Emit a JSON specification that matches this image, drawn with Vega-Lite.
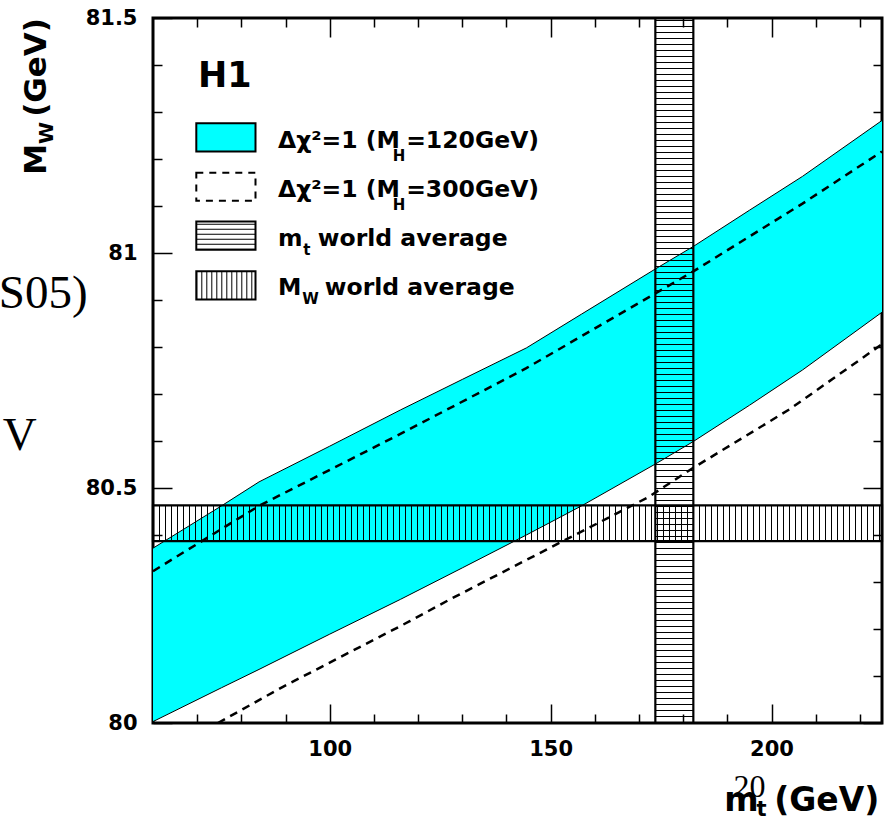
{
  "$schema": "https://vega.github.io/schema/vega-lite/v6.json",
  "width": 729,
  "height": 705,
  "autosize": "none",
  "padding": {"left": 153, "top": 18, "right": 8, "bottom": 98},
  "background": "white",
  "config": {
    "view": {"stroke": "black", "strokeWidth": 3},
    "axis": {"grid": false, "domain": false, "tickColor": "black", "tickWidth": 1.5, "labelColor": "black", "labelFont": "DejaVu Sans", "labelFontWeight": "bold", "labelFontSize": 21, "labelFlush": false, "zindex": 1, "title": null}
  },
  "datasets": {
    "band120": [
      {"mt": 60, "hi": 80.372, "lo": 80.003},
      {"mt": 75.5, "hi": 80.462, "lo": 80.075},
      {"mt": 84, "hi": 80.513, "lo": 80.114},
      {"mt": 100, "hi": 80.589, "lo": 80.189},
      {"mt": 116, "hi": 80.666, "lo": 80.263},
      {"mt": 130, "hi": 80.731, "lo": 80.330},
      {"mt": 144.5, "hi": 80.798, "lo": 80.400},
      {"mt": 157, "hi": 80.870, "lo": 80.462},
      {"mt": 173.7, "hi": 80.966, "lo": 80.551},
      {"mt": 182.3, "hi": 81.014, "lo": 80.599},
      {"mt": 195, "hi": 81.091, "lo": 80.676},
      {"mt": 207, "hi": 81.163, "lo": 80.751},
      {"mt": 225, "hi": 81.282, "lo": 80.874}
    ],
    "band300": [
      {"s": "hi", "mt": 60, "mw": 80.323},
      {"s": "hi", "mt": 84, "mw": 80.462},
      {"s": "hi", "mt": 116, "mw": 80.615},
      {"s": "hi", "mt": 144.5, "mw": 80.755},
      {"s": "hi", "mt": 173.7, "mw": 80.914},
      {"s": "hi", "mt": 182.3, "mw": 80.961},
      {"s": "hi", "mt": 207, "mw": 81.105},
      {"s": "hi", "mt": 225, "mw": 81.216},
      {"s": "lo", "mt": 74.7, "mw": 80.0},
      {"s": "lo", "mt": 89.4, "mw": 80.077},
      {"s": "lo", "mt": 118, "mw": 80.216},
      {"s": "lo", "mt": 127, "mw": 80.262},
      {"s": "lo", "mt": 153, "mw": 80.388},
      {"s": "lo", "mt": 172, "mw": 80.48},
      {"s": "lo", "mt": 182.3, "mw": 80.543},
      {"s": "lo", "mt": 204, "mw": 80.667},
      {"s": "lo", "mt": 225, "mw": 80.806}
    ],
    "averages": [
      {"name": "mt", "x1": 173.7, "x2": 182.3, "y1": 80.0, "y2": 81.5},
      {"name": "MW", "x1": 60, "x2": 225, "y1": 80.387, "y2": 80.463}
    ],
    "mtHatch": [{"mt": 178.0, "y1": 80.0, "y2": 81.5}],
    "mwHatch": [{"mw": 80.425, "x1": 60, "x2": 225}],
    "legendBoxes": [
      {"item": "cyan", "x1": 69.8, "x2": 83.2, "y1": 81.216, "y2": 81.276},
      {"item": "dash", "x1": 69.8, "x2": 83.2, "y1": 81.111, "y2": 81.171},
      {"item": "hhatch", "x1": 69.8, "x2": 83.2, "y1": 81.007, "y2": 81.067},
      {"item": "vhatch", "x1": 69.8, "x2": 83.2, "y1": 80.901, "y2": 80.961}
    ],
    "legendHHatch": [{"xc": 76.5, "y1": 81.007, "y2": 81.067}],
    "legendVHatch": [{"yc": 80.931, "x1": 69.8, "x2": 83.2}],
    "h1": [{"x": 70.2, "y": 81.354, "t": "H1"}],
    "legendMain": [
      {"x": 88.28, "y": 81.224, "t": "Δχ²=1 (M"},
      {"x": 117.3, "y": 81.224, "t": "=120GeV)"},
      {"x": 88.28, "y": 81.120, "t": "Δχ²=1 (M"},
      {"x": 117.3, "y": 81.120, "t": "=300GeV)"},
      {"x": 88.28, "y": 81.014, "t": "m"},
      {"x": 97.3, "y": 81.014, "t": "world average"},
      {"x": 88.28, "y": 80.910, "t": "M"},
      {"x": 98.9, "y": 80.910, "t": "world average"}
    ],
    "legendSub": [
      {"x": 114.25, "y": 81.195, "t": "H"},
      {"x": 114.25, "y": 81.091, "t": "H"},
      {"x": 94.0, "y": 80.995, "t": "t"},
      {"x": 93.77, "y": 80.891, "t": "W"}
    ],
    "xTitleMain": [{"x": 189.3, "y": 79.812, "t": "m"}],
    "xTitleRight": [{"x": 224.4, "y": 79.812, "t": "(GeV)"}],
    "xTitleSub": [{"x": 196.6, "y": 79.8027, "t": "t"}],
    "yTitleMain": [{"x": 35.7, "y": 81.1666, "t": "M"}],
    "yTitleSub": [{"x": 37.3, "y": 81.232, "t": "W"}],
    "yTitleRight": [{"x": 35.7, "y": 81.5, "t": "(GeV)"}],
    "strayRight": [
      {"x": 45.2, "y": 80.884, "t": "S05)"},
      {"x": 33.7, "y": 80.581, "t": "V"}
    ],
    "strayLeft": [{"x": 191.4, "y": 79.843, "t": "20"}]
  },
  "layer": [
    {
      "data": {"name": "band120"},
      "mark": {"type": "area", "color": "#00FFFF", "opacity": 1},
      "encoding": {
        "x": {"field": "mt", "type": "quantitative", "scale": {"domain": [60, 225], "nice": false, "zero": false},
              "axis": {"orient": "bottom", "values": [100, 150, 200], "tickSize": -19, "labelPadding": 34, "format": "d"}},
        "y": {"field": "hi", "type": "quantitative", "scale": {"domain": [80, 81.5], "nice": false, "zero": false},
              "axis": {"orient": "left", "values": [80, 80.5, 81, 81.5], "tickSize": -19, "labelPadding": 35, "format": "~g"}},
        "y2": {"field": "lo"}
      }
    },
    {
      "data": {"name": "band120"},
      "mark": {"type": "line", "color": "black", "strokeWidth": 1},
      "encoding": {
        "x": {"field": "mt", "type": "quantitative", "scale": {"domain": [60, 225], "nice": false, "zero": false},
              "axis": {"orient": "bottom", "values": [70, 80, 90, 110, 120, 130, 140, 160, 170, 180, 190, 210, 220], "tickSize": -9, "labels": false}},
        "y": {"field": "hi", "type": "quantitative", "scale": {"domain": [80, 81.5], "nice": false, "zero": false},
              "axis": {"orient": "left", "values": [80.1, 80.2, 80.3, 80.4, 80.6, 80.7, 80.8, 80.9, 81.1, 81.2, 81.3, 81.4], "tickSize": -9, "labels": false}}
      }
    },
    {
      "data": {"name": "band120"},
      "mark": {"type": "line", "color": "black", "strokeWidth": 1},
      "encoding": {
        "x": {"field": "mt", "type": "quantitative", "scale": {"domain": [60, 225], "nice": false, "zero": false}, "axis": null},
        "y": {"field": "lo", "type": "quantitative", "scale": {"domain": [80, 81.5], "nice": false, "zero": false}, "axis": null}
      }
    },
    {
      "data": {"name": "band300"},
      "mark": {"type": "line", "color": "black", "strokeWidth": 2.5, "strokeDash": [8, 6]},
      "encoding": {
        "x": {"field": "mt", "type": "quantitative", "scale": {"domain": [60, 225], "nice": false, "zero": false},
              "axis": {"orient": "top", "values": [100, 150, 200], "tickSize": -19, "labels": false}},
        "y": {"field": "mw", "type": "quantitative", "scale": {"domain": [80, 81.5], "nice": false, "zero": false},
              "axis": {"orient": "right", "values": [80, 80.5, 81, 81.5], "tickSize": -19, "labels": false}},
        "detail": {"field": "s"}
      }
    },
    {
      "data": {"name": "mtHatch"},
      "mark": {"type": "rule", "color": "black", "strokeWidth": 38, "strokeDash": [1, 5], "strokeCap": "butt"},
      "encoding": {
        "x": {"field": "mt", "type": "quantitative", "scale": {"domain": [60, 225], "nice": false, "zero": false}, "axis": null},
        "y": {"field": "y1", "type": "quantitative", "scale": {"domain": [80, 81.5], "nice": false, "zero": false}, "axis": null},
        "y2": {"field": "y2"}
      }
    },
    {
      "data": {"name": "mwHatch"},
      "mark": {"type": "rule", "color": "black", "strokeWidth": 35.7, "strokeDash": [1, 5], "strokeCap": "butt"},
      "encoding": {
        "y": {"field": "mw", "type": "quantitative", "scale": {"domain": [80, 81.5], "nice": false, "zero": false}, "axis": null},
        "x": {"field": "x1", "type": "quantitative", "scale": {"domain": [60, 225], "nice": false, "zero": false}, "axis": null},
        "x2": {"field": "x2"}
      }
    },
    {
      "data": {"name": "averages"},
      "mark": {"type": "rect", "fill": null, "fillOpacity": 0, "stroke": "black", "strokeWidth": 2.2},
      "encoding": {
        "x": {"field": "x1", "type": "quantitative", "scale": {"domain": [60, 225], "nice": false, "zero": false},
              "axis": {"orient": "top", "values": [70, 80, 90, 110, 120, 130, 140, 160, 170, 180, 190, 210, 220], "tickSize": -9, "labels": false}},
        "x2": {"field": "x2"},
        "y": {"field": "y1", "type": "quantitative", "scale": {"domain": [80, 81.5], "nice": false, "zero": false},
              "axis": {"orient": "right", "values": [80.1, 80.2, 80.3, 80.4, 80.6, 80.7, 80.8, 80.9, 81.1, 81.2, 81.3, 81.4], "tickSize": -9, "labels": false}},
        "y2": {"field": "y2"}
      }
    },
    {
      "data": {"name": "legendBoxes"},
      "transform": [{"filter": "datum.item === 'cyan'"}],
      "mark": {"type": "rect", "fill": "#00FFFF", "stroke": "black", "strokeWidth": 2},
      "encoding": {
        "x": {"field": "x1", "type": "quantitative", "scale": {"domain": [60, 225], "nice": false, "zero": false}, "axis": null},
        "x2": {"field": "x2"},
        "y": {"field": "y1", "type": "quantitative", "scale": {"domain": [80, 81.5], "nice": false, "zero": false}, "axis": null},
        "y2": {"field": "y2"}
      }
    },
    {
      "data": {"name": "legendBoxes"},
      "transform": [{"filter": "datum.item === 'dash'"}],
      "mark": {"type": "rect", "fill": null, "fillOpacity": 0, "stroke": "black", "strokeWidth": 2, "strokeDash": [7, 6]},
      "encoding": {
        "x": {"field": "x1", "type": "quantitative", "scale": {"domain": [60, 225], "nice": false, "zero": false}, "axis": null},
        "x2": {"field": "x2"},
        "y": {"field": "y1", "type": "quantitative", "scale": {"domain": [80, 81.5], "nice": false, "zero": false}, "axis": null},
        "y2": {"field": "y2"}
      }
    },
    {
      "data": {"name": "legendHHatch"},
      "mark": {"type": "rule", "color": "black", "strokeWidth": 59, "strokeDash": [1, 4], "strokeCap": "butt"},
      "encoding": {
        "x": {"field": "xc", "type": "quantitative", "scale": {"domain": [60, 225], "nice": false, "zero": false}, "axis": null},
        "y": {"field": "y1", "type": "quantitative", "scale": {"domain": [80, 81.5], "nice": false, "zero": false}, "axis": null},
        "y2": {"field": "y2"}
      }
    },
    {
      "data": {"name": "legendVHatch"},
      "mark": {"type": "rule", "color": "black", "strokeWidth": 28, "strokeDash": [1, 4], "strokeCap": "butt"},
      "encoding": {
        "y": {"field": "yc", "type": "quantitative", "scale": {"domain": [80, 81.5], "nice": false, "zero": false}, "axis": null},
        "x": {"field": "x1", "type": "quantitative", "scale": {"domain": [60, 225], "nice": false, "zero": false}, "axis": null},
        "x2": {"field": "x2"}
      }
    },
    {
      "data": {"name": "legendBoxes"},
      "transform": [{"filter": "datum.item === 'hhatch' || datum.item === 'vhatch'"}],
      "mark": {"type": "rect", "fill": null, "fillOpacity": 0, "stroke": "black", "strokeWidth": 2},
      "encoding": {
        "x": {"field": "x1", "type": "quantitative", "scale": {"domain": [60, 225], "nice": false, "zero": false}, "axis": null},
        "x2": {"field": "x2"},
        "y": {"field": "y1", "type": "quantitative", "scale": {"domain": [80, 81.5], "nice": false, "zero": false}, "axis": null},
        "y2": {"field": "y2"}
      }
    },
    {
      "data": {"name": "h1"},
      "mark": {"type": "text", "font": "DejaVu Sans", "fontWeight": "bold", "fontSize": 35, "align": "left", "baseline": "alphabetic", "color": "black"},
      "encoding": {
        "x": {"field": "x", "type": "quantitative", "scale": {"domain": [60, 225], "nice": false, "zero": false}, "axis": null},
        "y": {"field": "y", "type": "quantitative", "scale": {"domain": [80, 81.5], "nice": false, "zero": false}, "axis": null},
        "text": {"field": "t"}
      }
    },
    {
      "data": {"name": "legendMain"},
      "mark": {"type": "text", "font": "DejaVu Sans", "fontWeight": "bold", "fontSize": 23.5, "align": "left", "baseline": "alphabetic", "color": "black"},
      "encoding": {
        "x": {"field": "x", "type": "quantitative", "scale": {"domain": [60, 225], "nice": false, "zero": false}, "axis": null},
        "y": {"field": "y", "type": "quantitative", "scale": {"domain": [80, 81.5], "nice": false, "zero": false}, "axis": null},
        "text": {"field": "t"}
      }
    },
    {
      "data": {"name": "legendSub"},
      "mark": {"type": "text", "font": "DejaVu Sans", "fontWeight": "bold", "fontSize": 15, "align": "left", "baseline": "alphabetic", "color": "black"},
      "encoding": {
        "x": {"field": "x", "type": "quantitative", "scale": {"domain": [60, 225], "nice": false, "zero": false}, "axis": null},
        "y": {"field": "y", "type": "quantitative", "scale": {"domain": [80, 81.5], "nice": false, "zero": false}, "axis": null},
        "text": {"field": "t"}
      }
    },
    {
      "data": {"name": "xTitleMain"},
      "mark": {"type": "text", "font": "DejaVu Sans", "fontWeight": "bold", "fontSize": 33, "align": "left", "baseline": "alphabetic", "color": "black"},
      "encoding": {
        "x": {"field": "x", "type": "quantitative", "scale": {"domain": [60, 225], "nice": false, "zero": false}, "axis": null},
        "y": {"field": "y", "type": "quantitative", "scale": {"domain": [80, 81.5], "nice": false, "zero": false}, "axis": null},
        "text": {"field": "t"}
      }
    },
    {
      "data": {"name": "xTitleRight"},
      "mark": {"type": "text", "font": "DejaVu Sans", "fontWeight": "bold", "fontSize": 33, "align": "right", "baseline": "alphabetic", "color": "black"},
      "encoding": {
        "x": {"field": "x", "type": "quantitative", "scale": {"domain": [60, 225], "nice": false, "zero": false}, "axis": null},
        "y": {"field": "y", "type": "quantitative", "scale": {"domain": [80, 81.5], "nice": false, "zero": false}, "axis": null},
        "text": {"field": "t"}
      }
    },
    {
      "data": {"name": "xTitleSub"},
      "mark": {"type": "text", "font": "DejaVu Sans", "fontWeight": "bold", "fontSize": 21, "align": "left", "baseline": "alphabetic", "color": "black"},
      "encoding": {
        "x": {"field": "x", "type": "quantitative", "scale": {"domain": [60, 225], "nice": false, "zero": false}, "axis": null},
        "y": {"field": "y", "type": "quantitative", "scale": {"domain": [80, 81.5], "nice": false, "zero": false}, "axis": null},
        "text": {"field": "t"}
      }
    },
    {
      "data": {"name": "yTitleMain"},
      "mark": {"type": "text", "font": "DejaVu Sans", "fontWeight": "bold", "fontSize": 31, "angle": 270, "align": "left", "baseline": "alphabetic", "color": "black"},
      "encoding": {
        "x": {"field": "x", "type": "quantitative", "scale": {"domain": [60, 225], "nice": false, "zero": false}, "axis": null},
        "y": {"field": "y", "type": "quantitative", "scale": {"domain": [80, 81.5], "nice": false, "zero": false}, "axis": null},
        "text": {"field": "t"}
      }
    },
    {
      "data": {"name": "yTitleSub"},
      "mark": {"type": "text", "font": "DejaVu Sans", "fontWeight": "bold", "fontSize": 20, "angle": 270, "align": "left", "baseline": "alphabetic", "color": "black"},
      "encoding": {
        "x": {"field": "x", "type": "quantitative", "scale": {"domain": [60, 225], "nice": false, "zero": false}, "axis": null},
        "y": {"field": "y", "type": "quantitative", "scale": {"domain": [80, 81.5], "nice": false, "zero": false}, "axis": null},
        "text": {"field": "t"}
      }
    },
    {
      "data": {"name": "yTitleRight"},
      "mark": {"type": "text", "font": "DejaVu Sans", "fontWeight": "bold", "fontSize": 31, "angle": 270, "align": "right", "baseline": "alphabetic", "color": "black"},
      "encoding": {
        "x": {"field": "x", "type": "quantitative", "scale": {"domain": [60, 225], "nice": false, "zero": false}, "axis": null},
        "y": {"field": "y", "type": "quantitative", "scale": {"domain": [80, 81.5], "nice": false, "zero": false}, "axis": null},
        "text": {"field": "t"}
      }
    },
    {
      "data": {"name": "strayRight"},
      "mark": {"type": "text", "font": "Liberation Serif", "fontSize": 47, "align": "right", "baseline": "alphabetic", "color": "black"},
      "encoding": {
        "x": {"field": "x", "type": "quantitative", "scale": {"domain": [60, 225], "nice": false, "zero": false}, "axis": null},
        "y": {"field": "y", "type": "quantitative", "scale": {"domain": [80, 81.5], "nice": false, "zero": false}, "axis": null},
        "text": {"field": "t"}
      }
    },
    {
      "data": {"name": "strayLeft"},
      "mark": {"type": "text", "font": "Liberation Serif", "fontSize": 32, "align": "left", "baseline": "alphabetic", "color": "black"},
      "encoding": {
        "x": {"field": "x", "type": "quantitative", "scale": {"domain": [60, 225], "nice": false, "zero": false}, "axis": null},
        "y": {"field": "y", "type": "quantitative", "scale": {"domain": [80, 81.5], "nice": false, "zero": false}, "axis": null},
        "text": {"field": "t"}
      }
    }
  ],
  "resolve": {"axis": {"x": "independent", "y": "independent"}}
}
